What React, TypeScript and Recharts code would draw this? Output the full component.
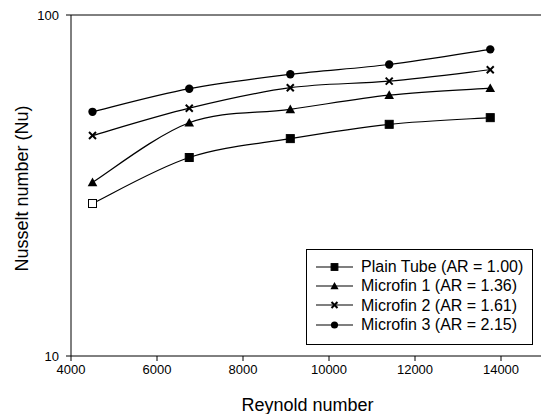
import React from 'react'
import { LineChart, Line, XAxis, YAxis, ReferenceLine, Legend } from 'recharts'

// Reynold number at each measurement
const reynolds = [4500, 6750, 9100, 11400, 13750]

// Nusselt number per tube
const plainTube = [28.0, 38.2, 43.4, 47.8, 50.0]
const microfin1 = [32.3, 48.3, 52.9, 58.2, 61.0]
const microfin2 = [44.3, 53.3, 61.2, 64.0, 69.1]
const microfin3 = [52.0, 60.8, 67.0, 71.6, 79.3]

const xTicks = [4000, 6000, 8000, 10000, 12000, 14000]
const yTicks = [10, 100]

const series = [
  { key: 'plain', name: 'Plain Tube (AR = 1.00)', shape: 'square' },
  { key: 'mf1', name: 'Microfin 1 (AR = 1.36)', shape: 'triangle' },
  { key: 'mf2', name: 'Microfin 2 (AR = 1.61)', shape: 'cross' },
  { key: 'mf3', name: 'Microfin 3 (AR = 2.15)', shape: 'circle' },
]

const data = reynolds.map((re, i) => ({
  re,
  plain: plainTube[i],
  mf1: microfin1[i],
  mf2: microfin2[i],
  mf3: microfin3[i],
}))

// cardinal spline (catmull-rom like), the way the old plotting package smooths lines
function smoothCurve(ctx: any) {
  let pts: [number, number][] = []
  const k = 1 / 6
  return {
    areaStart() {},
    areaEnd() {},
    lineStart() {
      pts = []
    },
    point(x: number, y: number) {
      pts.push([+x, +y])
    },
    lineEnd() {
      if (!pts.length) return
      ctx.moveTo(pts[0][0], pts[0][1])
      for (let i = 0; i < pts.length - 1; i++) {
        const p0 = pts[Math.max(i - 1, 0)]
        const p1 = pts[i]
        const p2 = pts[i + 1]
        const p3 = pts[Math.min(i + 2, pts.length - 1)]
        ctx.bezierCurveTo(
          p1[0] + (p2[0] - p0[0]) * k,
          p1[1] + (p2[1] - p0[1]) * k,
          p2[0] - (p3[0] - p1[0]) * k,
          p2[1] - (p3[1] - p1[1]) * k,
          p2[0],
          p2[1],
        )
      }
    },
  }
}

function Marker({ shape, cx, cy, hollow = false, s = 1 }: { shape: string; cx: number; cy: number; hollow?: boolean; s?: number }) {
  if (shape === 'square') {
    const h = 4 * s
    return (
      <rect x={cx - h} y={cy - h} width={2 * h} height={2 * h}
        fill={hollow ? '#fff' : '#000'} stroke="#000" strokeWidth={1} />
    )
  }
  if (shape === 'triangle') {
    const h = 4.8 * s
    return <polygon points={`${cx},${cy - h} ${cx + h},${cy + h * 0.8} ${cx - h},${cy + h * 0.8}`} fill="#000" />
  }
  if (shape === 'cross') {
    const h = 3.5 * s
    return (
      <g stroke="#000" strokeWidth={2}>
        <line x1={cx - h} y1={cy - h} x2={cx + h} y2={cy + h} />
        <line x1={cx - h} y1={cy + h} x2={cx + h} y2={cy - h} />
      </g>
    )
  }
  return <circle cx={cx} cy={cy} r={4.2 * s} fill="#000" />
}

function renderLegend() {
  return (
    <div style={{ border: '1px solid #000', background: '#fff', boxSizing: 'border-box', width: 227, height: 96, padding: '7px 0 0 8px' }}>
      {series.map((s) => (
        <div key={s.key} style={{ display: 'flex', alignItems: 'center', height: 19.3 }}>
          <svg width={40} height={14}>
            <line x1={1} y1={7} x2={38} y2={7} stroke="#000" strokeWidth={1.2} />
            <Marker shape={s.shape} cx={19.5} cy={7} s={0.85} />
          </svg>
          <span style={{ fontSize: 16, marginLeft: 6, color: '#000', lineHeight: '19px' }}>{s.name}</span>
        </div>
      ))}
    </div>
  )
}

export default function App() {
  return (
    <div style={{ position: 'fixed', left: 0, top: 0, width: 541, height: 414, overflow: 'hidden', background: '#fff', fontFamily: '"Liberation Sans", Arial, sans-serif' }}>
      <LineChart width={550} height={414} data={data} margin={{ top: 15, right: 6, bottom: 0, left: 0 }}>
        <XAxis
          dataKey="re"
          type="number"
          domain={[4000, 15000]}
          ticks={xTicks}
          height={58}
          tickSize={5}
          tickMargin={4}
          axisLine={{ stroke: '#000' }}
          tickLine={{ stroke: '#000' }}
          tick={{ fill: '#000', fontSize: 13 }}
          label={{ value: 'Reynold number', position: 'insideBottom', offset: 3, fontSize: 18, fill: '#000' }}
        />
        <YAxis
          scale="log"
          domain={[10, 100]}
          ticks={yTicks}
          width={71}
          tickSize={5}
          tickMargin={7}
          axisLine={{ stroke: '#000' }}
          tickLine={{ stroke: '#000' }}
          tick={{ fill: '#000', fontSize: 13 }}
          label={{
            content: (props: any) => {
              const vb = props.viewBox || { x: 0, y: 15, width: 71, height: 341 }
              const cx = 28
              const cy = vb.y + vb.height / 2 + 3
              return (
                <text x={cx} y={cy} transform={`rotate(-90, ${cx}, ${cy})`} textAnchor="middle" fontSize={18} fill="#000">
                  Nusselt number (Nu)
                </text>
              )
            },
          }}
        />
        <ReferenceLine y={100} stroke="#000" strokeWidth={1} />
        {series.map((s) => (
          <Line
            key={s.key}
            dataKey={s.key}
            name={s.name}
            type={smoothCurve as any}
            stroke="#000"
            strokeWidth={1.2}
            isAnimationActive={false}
            dot={(p: any) => (
              <Marker key={`${s.key}-${p.index}`} shape={s.shape} cx={p.cx} cy={p.cy} hollow={s.key === 'plain' && p.index === 0} />
            )}
          />
        ))}
        <Legend
          layout="vertical"
          align="center"
          verticalAlign="middle"
          content={renderLegend}
          wrapperStyle={{ left: 306, top: 249, width: 227, height: 96 }}
        />
      </LineChart>
    </div>
  )
}
